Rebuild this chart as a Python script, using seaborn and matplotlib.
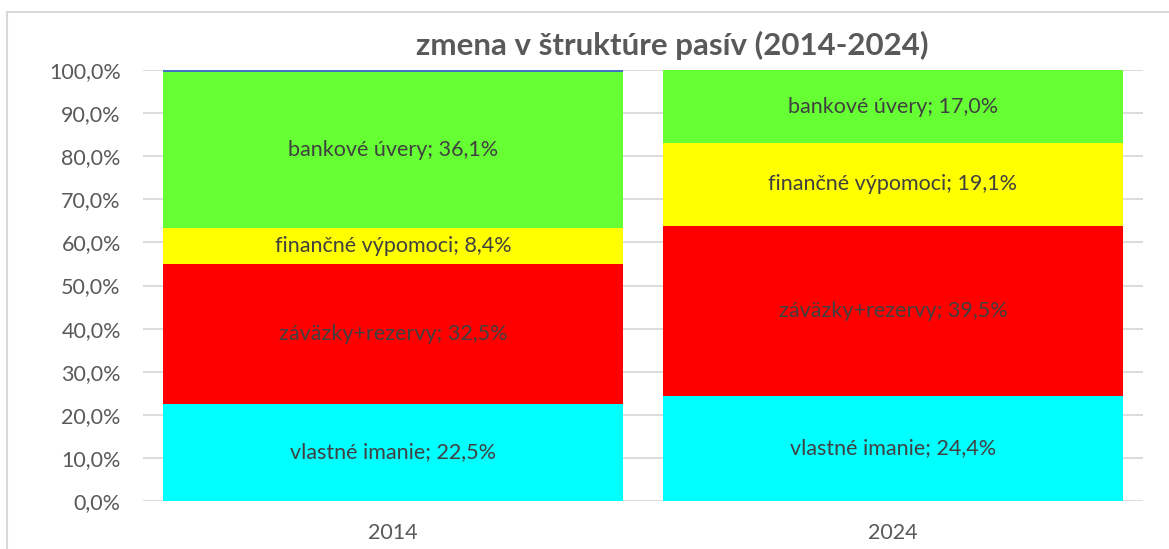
import matplotlib
matplotlib.use("Agg")
import matplotlib.pyplot as plt
from matplotlib.patches import Rectangle
import numpy as np
import pandas as pd
import seaborn as sns

# data (percent of total liabilities)
years = ["2014", "2024"]
series = ["vlastné imanie", "záväzky+rezervy", "finančné výpomoci", "bankové úvery", "ostatné"]
vlastne_imanie = [22.5, 24.4]
zavazky_rezervy = [32.5, 39.5]
financne_vypomoci = [8.4, 19.1]
bankove_uvery = [36.1, 17.0]
ostatne = [0.5, 0.0]
colors = ["#00FFFF", "#FF0000", "#FFFF00", "#66FF33", "#4472C4"]

df = pd.DataFrame(
    {
        "vlastné imanie": vlastne_imanie,
        "záväzky+rezervy": zavazky_rezervy,
        "finančné výpomoci": financne_vypomoci,
        "bankové úvery": bankove_uvery,
        "ostatné": ostatne,
    },
    index=years,
)
share = df.div(df.sum(axis=1), axis=0)
cum = share.cumsum(axis=1)

sns.set_theme(style="white")
plt.rcParams["font.family"] = ["Lato", "DejaVu Sans"]

fig = plt.figure(figsize=(11.69, 5.49), dpi=100)
ax = fig.add_axes([143 / 1169, 1 - 501 / 549, 1000 / 1169, 431 / 549])

# chart area frame
fig.patches.append(Rectangle((7 / 1169, -0.05), 1.2, 1 - 12 / 549 + 0.05,
                             transform=fig.transFigure, fill=False,
                             edgecolor="#d9d9d9", linewidth=1.5, zorder=0))

ax.set_axisbelow(True)
for t in np.arange(0, 1.01, 0.1):
    ax.axhline(t, color="#d9d9d9", linewidth=1.3, zorder=0)

# stacked bars: draw cumulative totals from the top series down
for name, col in reversed(list(zip(series, colors))):
    plot_df = pd.DataFrame({"year": years, "value": cum[name].values})
    sns.barplot(data=plot_df, x="year", y="value", color=col, saturation=1,
                width=0.92, ax=ax, linewidth=0, zorder=2)

# segment labels
for i, yr in enumerate(years):
    bottom = 0.0
    for name in series[:4]:
        h = share.loc[yr, name]
        label = f"{name}; {df.loc[yr, name]:.1f}%".replace(".", ",")
        ax.text(i, bottom + h / 2, label, ha="center", va="center",
                fontsize=15.5, color="#404040", zorder=3)
        bottom += h

ax.set_ylim(0, 1)
ax.set_xlim(-0.5, 1.5)
ax.set_yticks(np.arange(0, 1.01, 0.1))
ax.set_yticklabels([f"{v:.1f}%".replace(".", ",") for v in np.arange(0, 101, 10)])
ax.tick_params(axis="both", labelsize=15.5, colors="#595959", length=0)
ax.tick_params(axis="y", pad=16)
ax.tick_params(axis="x", pad=16)
ax.set_xlabel("")
ax.set_ylabel("")
for s in ax.spines.values():
    s.set_visible(False)

fig.text(672 / 1169, 1 - 45 / 549, "zmena v štruktúre pasív (2014-2024)",
         ha="center", va="center", fontsize=22.5, fontweight="bold", color="#595959")

fig.savefig("out.png", dpi=100)
